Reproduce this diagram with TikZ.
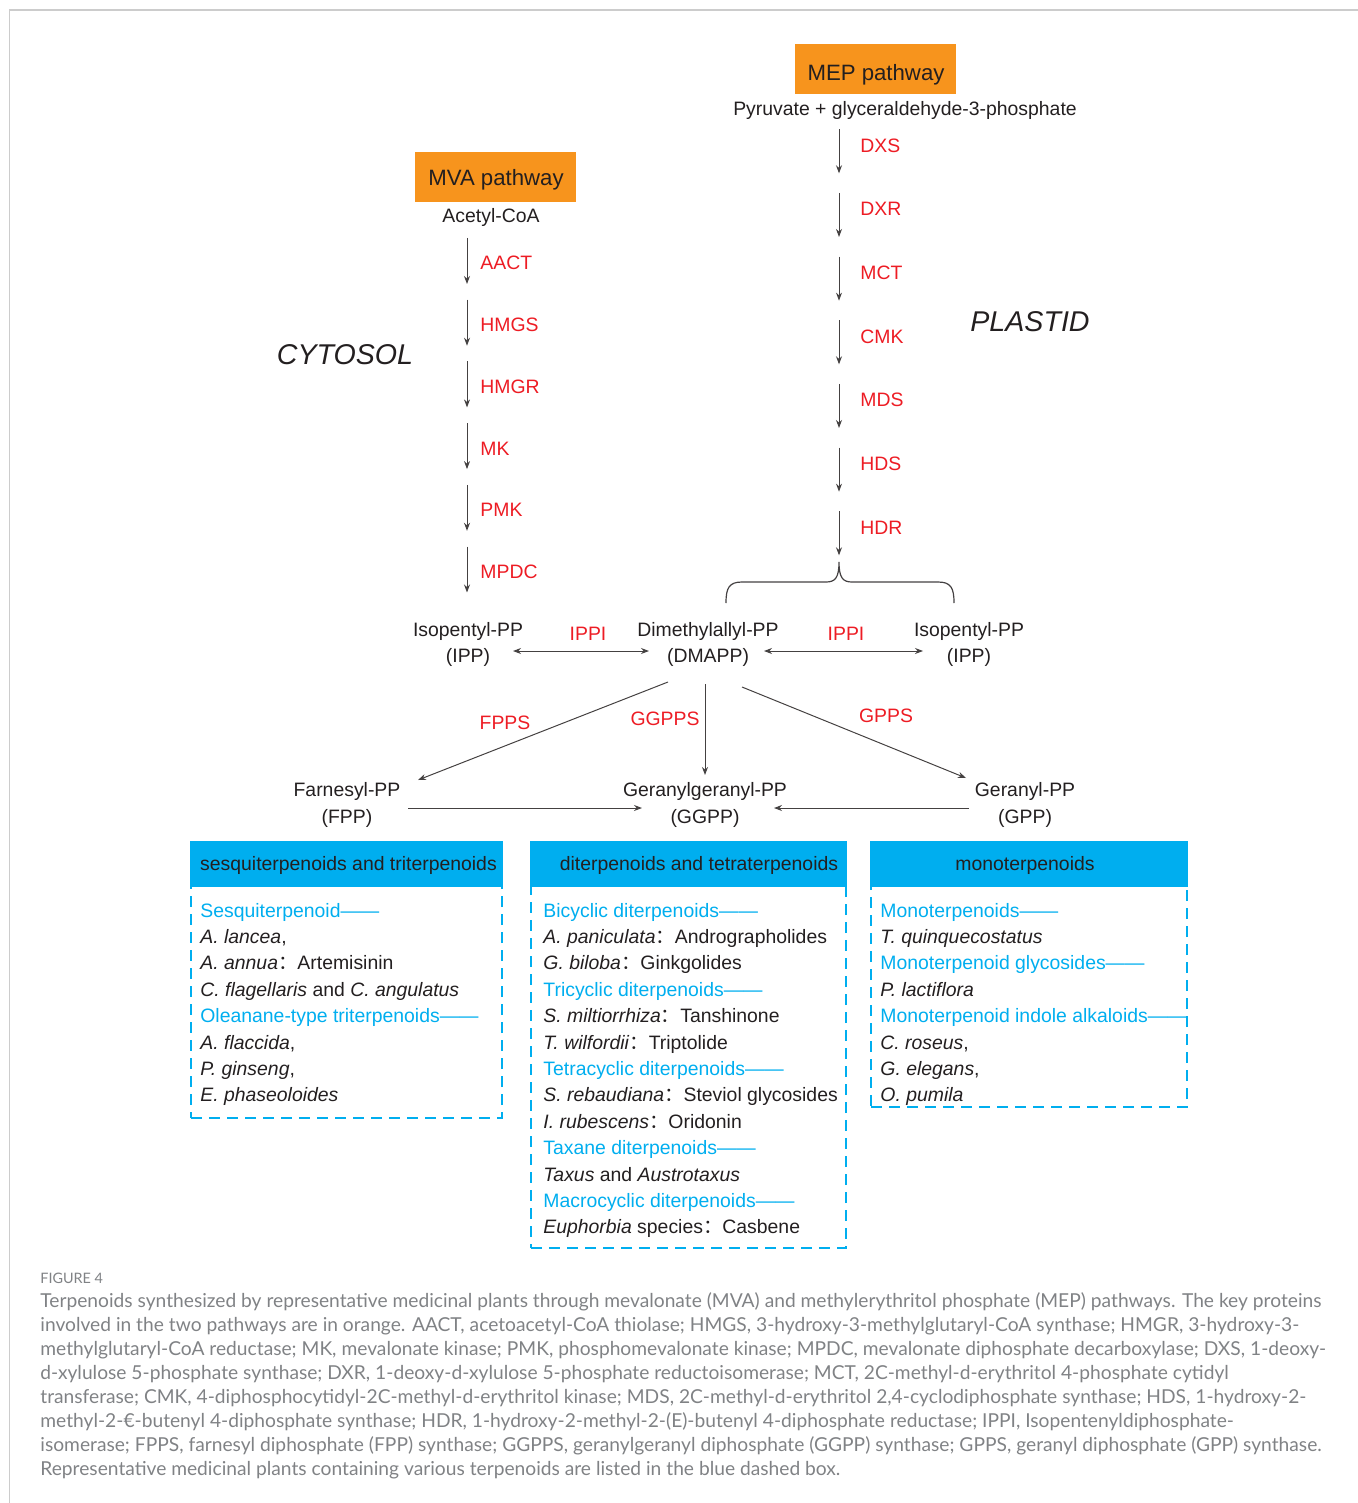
\documentclass[tikz,border=0pt]{standalone}
\usepackage{fontspec}
\setmainfont{Liberation Sans}
\newfontfamily\capfont{Lato}
\newfontfamily\cjkfont{Noto Sans CJK SC}
\usetikzlibrary{arrows.meta}
\definecolor{txt}{HTML}{231F20}
\definecolor{enz}{HTML}{ED1C24}
\definecolor{orng}{HTML}{F7941D}
\definecolor{cyanb}{HTML}{00AEEF}
\definecolor{capg}{HTML}{808285}
\definecolor{frameg}{HTML}{CCCCCC}
\newcommand\dfont{\fontsize{9.7}{12}\selectfont}
\newcommand\fc{{\cjkfont ：}}
\tikzset{
  lbl/.style={inner sep=0pt, anchor=base, text=txt, font=\dfont},
  enzl/.style={inner sep=0pt, anchor=base west, text=enz, font=\dfont},
  enzc/.style={inner sep=0pt, anchor=base, text=enz, font=\dfont},
  arr/.style={draw=txt!85, line width=0.5pt, -{Stealth[length=4pt,width=3pt]}},
  darr/.style={draw=txt!85, line width=0.5pt, {Stealth[length=4pt,width=3pt]}-{Stealth[length=4pt,width=3pt]}},
  obox/.style={fill=orng, draw=none, minimum width=80.5pt, minimum height=25pt, inner sep=0pt},
  otext/.style={inner sep=0pt, anchor=base, text=txt, font=\fontsize{11.1}{13}\selectfont},
  hbox/.style={fill=cyanb, draw=none, inner sep=0pt, minimum height=23pt},
  dbox/.style={draw=cyanb, line width=1pt, dash pattern=on 5.5pt off 3.5pt, inner sep=0pt},
  bt/.style={inner sep=0pt, anchor=base west, text=cyanb, font=\dfont},
  it/.style={inner sep=0pt, anchor=base west, text=txt, font=\dfont},
  bigtxt/.style={inner sep=0pt, anchor=base, text=txt, font=\fontsize{14.3}{16}\selectfont\itshape},
  captxt/.style={inner sep=0pt, anchor=base west, text=capg, font=\capfont\fontsize{9.6}{11}\selectfont},
}
\begin{document}
\begin{tikzpicture}[x=0.5pt,y=-0.5pt]
\useasboundingbox (0,0) rectangle (1358,1503);
% frame
\draw[frameg, line width=0.8pt] (9.5,1503) -- (9.5,10) -- (1358,10);

% pathway boxes
\node[obox] (mepbox) at (875.5,69) {};
\node[otext] (meptxt) at (876,80.7) {MEP pathway};
\node[lbl] (pyr) at (905,116) {Pyruvate + glyceraldehyde-3-phosphate};
\node[obox] (mvabox) at (495.5,177) {};
\node[otext] (mvatxt) at (496,185.7) {MVA pathway};
\node[lbl] (acoa) at (491,222.3) {Acetyl-CoA};

\node[bigtxt] (cyto) at (345,364) {CYTOSOL};
\node[bigtxt] (plas) at (1030,331) {PLASTID};

% MEP steps
\foreach \n [count=\i from 0] in {DXS,DXR,MCT,CMK,MDS,HDS,HDR} {
  \pgfmathsetmacro\c{145.3+63.67*\i}
  \coordinate (mep\i s) at (839,\c-16);
  \coordinate (mep\i e) at (839,\c+28);
  \draw[arr] (mep\i s) -- (mep\i e);
  \node[enzl] (mepenz\i) at (860,\c+7) {\n};
}
% MVA steps
\foreach \n [count=\i from 0] in {AACT,HMGS,HMGR,MK,PMK,MPDC} {
  \pgfmathsetmacro\c{262.5+61.7*\i}
  \coordinate (mva\i s) at (467,\c-24.5);
  \coordinate (mva\i e) at (467,\c+21.5);
  \draw[arr] (mva\i s) -- (mva\i e);
  \node[enzl] (mvaenz\i) at (480,\c+7.5) {\n};
}

% brace
\draw[txt!85, line width=0.6pt] (726,603) .. controls (726,588) and (729,582) .. (742,582)
  -- (826,582) .. controls (835,582) and (839,578) .. (839,562)
  .. controls (839,578) and (843,582) .. (852,582)
  -- (938,582) .. controls (951,582) and (954,588) .. (954,603);

% IPP / DMAPP row
\node[lbl] (ippl1) at (468,636.5) {Isopentyl-PP};
\node[lbl] (ippl2) at (468,662.5) {(IPP)};
\node[lbl] (dma1) at (708,636.5) {Dimethylallyl-PP};
\node[lbl] (dma2) at (708,662.5) {(DMAPP)};
\node[lbl] (ippr1) at (969,636.5) {Isopentyl-PP};
\node[lbl] (ippr2) at (969,662.5) {(IPP)};
\node[enzc] (ippi1) at (588,640.5) {IPPI};
\node[enzc] (ippi2) at (846,640.5) {IPPI};
\coordinate (dl1) at (513,651);
\coordinate (dl2) at (649,651);
\coordinate (dr1) at (764,651);
\coordinate (dr2) at (923,651);
\draw[darr] (dl1) -- (dl2);
\draw[darr] (dr1) -- (dr2);

% products
\node[lbl] (fpp1) at (347,796) {Farnesyl-PP};
\node[lbl] (fpp2) at (347,823) {(FPP)};
\node[lbl] (ggpp1) at (705,796) {Geranylgeranyl-PP};
\node[lbl] (ggpp2) at (705,823) {(GGPP)};
\node[lbl] (gpp1) at (1025,796) {Geranyl-PP};
\node[lbl] (gpp2) at (1025,823) {(GPP)};
\node[enzc] (fpps) at (505,729) {FPPS};
\node[enzc] (ggpps) at (665,725) {GGPPS};
\node[enzc] (gpps) at (886,722) {GPPS};
\coordinate (a1s) at (668,682); \coordinate (a1e) at (418,780);
\coordinate (a2s) at (705,684); \coordinate (a2e) at (705,775);
\coordinate (a3s) at (742,687); \coordinate (a3e) at (966,778);
\coordinate (b1s) at (408,808); \coordinate (b1e) at (642,808);
\coordinate (b2s) at (969,808); \coordinate (b2e) at (774,808);
\draw[arr] (a1s) -- (a1e);
\draw[arr] (a2s) -- (a2e);
\draw[arr] (a3s) -- (a3e);
\draw[arr] (b1s) -- (b1e);
\draw[arr] (b2s) -- (b2e);

% blue boxes
\node[dbox, minimum width=155.5pt, minimum height=116pt] (d1) at (346.5,1002) {};
\node[dbox, minimum width=157.5pt, minimum height=181pt] (d2) at (688.5,1067) {};
\node[dbox, minimum width=158pt, minimum height=110.5pt] (d3) at (1029,996.5) {};
\node[hbox, minimum width=156.5pt] (h1) at (346.5,864) {};
\node[hbox, minimum width=158.5pt] (h2) at (688.5,864) {};
\node[hbox, minimum width=159pt] (h3) at (1029,864) {};
\node[lbl] (h1t) at (348.5,870) {sesquiterpenoids and triterpenoids};
\node[lbl] (h2t) at (699,870) {diterpenoids and tetraterpenoids};
\node[lbl] (h3t) at (1025,870) {monoterpenoids};

% box 1
\node[bt] (b1l0) at (200,917) {Sesquiterpenoid——};
\node[it] (b1l1) at (200,943.4) {\textit{A. lancea},};
\node[it] (b1l2) at (200,969.8) {\textit{A. annua}\fc Artemisinin};
\node[it] (b1l3) at (200,996.2) {\textit{C. flagellaris} and \textit{C. angulatus}};
\node[bt] (b1l4) at (200,1022.6) {Oleanane-type triterpenoids——};
\node[it] (b1l5) at (200,1049) {\textit{A. flaccida},};
\node[it] (b1l6) at (200,1075.4) {\textit{P. ginseng},};
\node[it] (b1l7) at (200,1101.8) {\textit{E. phaseoloides}};

% box 2
\node[bt] (b2l0) at (543,917) {Bicyclic diterpenoids——};
\node[it] (b2l1) at (543,943.4) {\textit{A. paniculata}\fc Andrographolides};
\node[it] (b2l2) at (543,969.8) {\textit{G. biloba}\fc Ginkgolides};
\node[bt] (b2l3) at (543,996.2) {Tricyclic diterpenoids——};
\node[it] (b2l4) at (543,1022.6) {\textit{S. miltiorrhiza}\fc Tanshinone};
\node[it] (b2l5) at (543,1049) {\textit{T. wilfordii}\fc Triptolide};
\node[bt] (b2l6) at (543,1075.4) {Tetracyclic diterpenoids——};
\node[it] (b2l7) at (543,1101.8) {\textit{S. rebaudiana}\fc Steviol glycosides};
\node[it] (b2l8) at (543,1128.2) {\textit{I. rubescens}\fc Oridonin};
\node[bt] (b2l9) at (543,1154.6) {Taxane diterpenoids——};
\node[it] (b2l10) at (543,1181) {\textit{Taxus} and \textit{Austrotaxus}};
\node[bt] (b2l11) at (543,1207.4) {Macrocyclic diterpenoids——};
\node[it] (b2l12) at (543,1233.8) {\textit{Euphorbia} species\fc Casbene};

% box 3
\node[bt] (b3l0) at (880,917) {Monoterpenoids——};
\node[it] (b3l1) at (880,943.4) {\textit{T. quinquecostatus}};
\node[bt] (b3l2) at (880,969.8) {Monoterpenoid glycosides——};
\node[it] (b3l3) at (880,996.2) {\textit{P. lactiflora}};
\node[bt] (b3l4) at (880,1022.6) {Monoterpenoid indole alkaloids——};
\node[it] (b3l5) at (880,1049) {\textit{C. roseus},};
\node[it] (b3l6) at (880,1075.4) {\textit{G. elegans},};
\node[it] (b3l7) at (880,1101.8) {\textit{O. pumila}};

% caption
\node[captxt, font=\capfont\fontsize{7.2}{9}\selectfont] (fig) at (40,1283) {FIGURE 4};
\node[captxt] (c1) at (40,1307) {Terpenoids synthesized by representative medicinal plants through mevalonate (MVA) and methylerythritol phosphate (MEP) pathways. The key proteins};
\node[captxt] (c2) at (40,1331) {involved in the two pathways are in orange. AACT, acetoacetyl-CoA thiolase; HMGS, 3-hydroxy-3-methylglutaryl-CoA synthase; HMGR, 3-hydroxy-3-};
\node[captxt] (c3) at (40,1355) {methylglutaryl-CoA reductase; MK, mevalonate kinase; PMK, phosphomevalonate kinase; MPDC, mevalonate diphosphate decarboxylase; DXS, 1-deoxy-};
\node[captxt] (c4) at (40,1379) {d-xylulose 5-phosphate synthase; DXR, 1-deoxy-d-xylulose 5-phosphate reductoisomerase; MCT, 2C-methyl-d-erythritol 4-phosphate cytidyl};
\node[captxt] (c5) at (40,1403) {transferase; CMK, 4-diphosphocytidyl-2C-methyl-d-erythritol kinase; MDS, 2C-methyl-d-erythritol 2,4-cyclodiphosphate synthase; HDS, 1-hydroxy-2-};
\node[captxt] (c6) at (40,1427) {methyl-2-€-butenyl 4-diphosphate synthase; HDR, 1-hydroxy-2-methyl-2-(E)-butenyl 4-diphosphate reductase; IPPI, Isopentenyldiphosphate-};
\node[captxt] (c7) at (40,1451) {isomerase; FPPS, farnesyl diphosphate (FPP) synthase; GGPPS, geranylgeranyl diphosphate (GGPP) synthase; GPPS, geranyl diphosphate (GPP) synthase.};
\node[captxt] (c8) at (40,1475) {Representative medicinal plants containing various terpenoids are listed in the blue dashed box.};
\end{tikzpicture}
\end{document}
